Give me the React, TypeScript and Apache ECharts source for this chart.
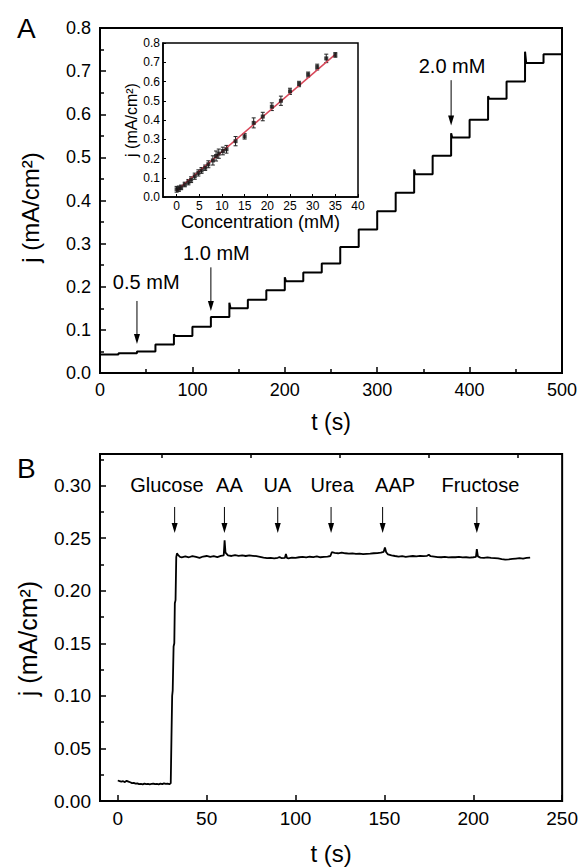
import React, { useEffect, useRef } from 'react';
import * as echarts from 'echarts';

const FONT = '"Liberation Sans", Arial, Helvetica, sans-serif';

// ---------- Panel A: amperometric steps ----------
const stepStarts = [0, 20, 40, 60, 80, 100, 120, 140, 160, 180, 200, 220, 240, 260, 280, 300, 320, 340, 360, 380, 400, 420, 440, 460, 480];
const stepLevels = [0.043, 0.046, 0.050, 0.066, 0.086, 0.107, 0.130, 0.150, 0.170, 0.192, 0.213, 0.233, 0.254, 0.292, 0.333, 0.375, 0.418, 0.461, 0.504, 0.546, 0.587, 0.636, 0.676, 0.719, 0.739];
const spikeTimes = [80, 140, 200, 340, 380, 420, 460];
const spikeValues = [0.090, 0.163, 0.222, 0.472, 0.556, 0.642, 0.745];
const stepEnd = 500;

const doseLabels = ['0.5 mM', '1.0 mM', '2.0 mM'];
const doseLabelT = [50, 126, 381];
const doseLabelJ = [0.212, 0.278, 0.711];
const doseArrowT = [40, 120, 380];
const doseArrowTop = [0.167, 0.245, 0.679];
const doseArrowTip = [0.067, 0.144, 0.574];

// ---------- Inset: calibration ----------
const concentration = [0, 0.5, 1, 1.8, 2.6, 3.2, 4, 4.8, 5.5, 6.3, 7, 8, 8.7, 9.3, 10.2, 11, 13, 15, 17, 19, 21, 23, 25, 27, 29, 31, 33, 35];
const calCurrent = [0.040, 0.043, 0.050, 0.065, 0.077, 0.090, 0.108, 0.125, 0.138, 0.152, 0.170, 0.190, 0.213, 0.225, 0.239, 0.248, 0.290, 0.315, 0.385, 0.418, 0.469, 0.500, 0.549, 0.587, 0.636, 0.675, 0.720, 0.738];
const calError = [0.015, 0.014, 0.012, 0.012, 0.014, 0.015, 0.016, 0.016, 0.015, 0.014, 0.018, 0.024, 0.026, 0.024, 0.020, 0.020, 0.024, 0.014, 0.026, 0.022, 0.020, 0.024, 0.016, 0.014, 0.013, 0.015, 0.022, 0.012];
const fitConc = [0, 35];
const fitCurrent = [0.033, 0.741];

// ---------- Panel B: selectivity ----------
const bTime = [0, 1, 2, 3, 4, 5, 6, 7, 8, 9, 10, 11, 12, 13, 14, 15, 16, 17, 18, 19, 20, 21, 22, 23, 24, 25, 26, 27, 28, 29, 29.8, 30.0, 30.2, 30.6, 30.9, 31.4, 31.8, 32.1, 32.5, 32.9, 33.3, 34, 35, 36, 38, 40, 42, 44, 46, 48, 50, 52, 54, 56, 58, 59.6, 60.1, 60.6, 62, 64, 66, 68, 70, 72, 74, 76, 78, 80, 82, 84, 86, 88, 90, 91, 92, 94, 94.6, 95.2, 96, 98, 100, 102, 104, 106, 108, 110, 112, 114, 116, 118, 119.6, 120.4, 122, 124, 126, 128, 130, 132, 134, 136, 138, 140, 142, 144, 146, 148, 149.6, 150.3, 151, 152, 154, 156, 158, 160, 162, 164, 166, 168, 170, 172, 174, 175, 176, 178, 180, 182, 184, 186, 188, 190, 192, 194, 196, 198, 200, 201.5, 202, 202.6, 204, 206, 208, 210, 212, 214, 216, 218, 220, 222, 224, 226, 228, 230, 232];
const bCurrent = [0.0195, 0.019, 0.0185, 0.0188, 0.018, 0.0192, 0.0185, 0.0178, 0.017, 0.0172, 0.0165, 0.0168, 0.016, 0.0163, 0.0158, 0.0165, 0.016, 0.0163, 0.0158, 0.0162, 0.0166, 0.016, 0.0163, 0.0158, 0.0165, 0.016, 0.0168, 0.0162, 0.0165, 0.016, 0.0168, 0.017, 0.060, 0.100, 0.105, 0.147, 0.150, 0.188, 0.191, 0.232, 0.2355, 0.2338, 0.2322, 0.2318, 0.2326, 0.2318, 0.2328, 0.2321, 0.2313, 0.2325, 0.2330, 0.2322, 0.2328, 0.2320, 0.2331, 0.2335, 0.2480, 0.2362, 0.2336, 0.2330, 0.2338, 0.2332, 0.2336, 0.2330, 0.2336, 0.2332, 0.2328, 0.2322, 0.2315, 0.2310, 0.2313, 0.2308, 0.2313, 0.2320, 0.2310, 0.2312, 0.2348, 0.2312, 0.2308, 0.2315, 0.2312, 0.2318, 0.2322, 0.2317, 0.2323, 0.2320, 0.2326, 0.2318, 0.2322, 0.2325, 0.2330, 0.2366, 0.2360, 0.2356, 0.2362, 0.2356, 0.2352, 0.2355, 0.2350, 0.2352, 0.2348, 0.2351, 0.2352, 0.2356, 0.2358, 0.2362, 0.2370, 0.2410, 0.2366, 0.2346, 0.2336, 0.2330, 0.2325, 0.2328, 0.2322, 0.2326, 0.2330, 0.2326, 0.2331, 0.2328, 0.2332, 0.2342, 0.2328, 0.2325, 0.2320, 0.2318, 0.2322, 0.2316, 0.2320, 0.2318, 0.2322, 0.2316, 0.2318, 0.2315, 0.2318, 0.2321, 0.2395, 0.2326, 0.2315, 0.2312, 0.2316, 0.2312, 0.2310, 0.2307, 0.2300, 0.2296, 0.2298, 0.2302, 0.2306, 0.2310, 0.2306, 0.2312, 0.2314];

const interferents = ['Glucose', 'AA', 'UA', 'Urea', 'AAP', 'Fructose'];
const interferentLabelT = [27.6, 62.8, 89.8, 120.6, 156, 204];
const interferentLabelJ = 0.3005;
const interferentArrowT = [32, 60, 90, 120, 149, 202];
const interferentArrowTop = 0.2796;
const interferentArrowTip = 0.2549;

const xTicksB = [0, 50, 100, 150, 200, 250];
const xMinorTicksB = [25, 75, 125, 175, 225];
const xTicksInset = [0, 5, 10, 15, 20, 25, 30, 35, 40];

function buildSteps(): number[][] {
  const pts: number[][] = [[stepStarts[0], stepLevels[0]]];
  for (let i = 1; i < stepStarts.length; i++) {
    const t = stepStarts[i];
    pts.push([t, stepLevels[i - 1]]);
    const k = spikeTimes.indexOf(t);
    if (k >= 0) {
      pts.push([t, spikeValues[k]]);
      pts.push([t + 1.2, stepLevels[i]]);
    } else {
      pts.push([t, stepLevels[i]]);
    }
  }
  pts.push([stepEnd, stepLevels[stepLevels.length - 1]]);
  return pts;
}

const arrowRender = (params: any, api: any) => {
  const top = api.coord([api.value(0), api.value(1)]);
  const tip = api.coord([api.value(0), api.value(2)]);
  return {
    type: 'group',
    children: [
      { type: 'line', shape: { x1: top[0], y1: top[1], x2: tip[0], y2: tip[1] - 6 }, style: { stroke: '#000', lineWidth: 1 } },
      { type: 'polygon', shape: { points: [[tip[0] - 3, tip[1] - 10], [tip[0] + 3, tip[1] - 10], [tip[0], tip[1]]] }, style: { fill: '#000' } },
    ],
  };
};

const textRender = (names: string[], size: number) => (params: any, api: any) => {
  const p = api.coord([api.value(0), api.value(1)]);
  return {
    type: 'text',
    x: p[0],
    y: p[1],
    style: { text: names[params.dataIndex], fontSize: size, fontFamily: FONT, fill: '#000', align: 'center', verticalAlign: 'middle' },
  };
};

const errRender = (params: any, api: any) => {
  const c = api.value(0), m = api.value(1), e = api.value(2);
  const lo = api.coord([c, m - e]);
  const hi = api.coord([c, m + e]);
  const st = { stroke: '#222', lineWidth: 1 };
  return {
    type: 'group',
    children: [
      { type: 'line', shape: { x1: lo[0], y1: lo[1], x2: hi[0], y2: hi[1] }, style: st },
      { type: 'line', shape: { x1: lo[0] - 2, y1: lo[1], x2: lo[0] + 2, y2: lo[1] }, style: st },
      { type: 'line', shape: { x1: hi[0] - 2, y1: hi[1], x2: hi[0] + 2, y2: hi[1] }, style: st },
    ],
  };
};

const black = '#000';
const lbl = (size: number, margin: number, fmt?: (v: number) => string) => ({
  color: black, fontSize: size, fontFamily: FONT, margin, formatter: fmt,
});
const line = (w: number) => ({ onZero: false, lineStyle: { color: black, width: w } });

function buildOption(): any {
  return {
    animation: false,
    backgroundColor: '#fff',
    textStyle: { fontFamily: FONT, color: black },
    graphic: [
      { type: 'text', left: 17, top: 14, style: { text: 'A', fontSize: 28, fontFamily: FONT, fill: black } },
      { type: 'text', left: 17, top: 454, style: { text: 'B', fontSize: 28, fontFamily: FONT, fill: black } },
    ],
    grid: [
      { left: 100, top: 28, width: 462, height: 345, show: true, borderColor: black, borderWidth: 2, backgroundColor: 'transparent' },
      { left: 163, top: 43, width: 195, height: 154, show: true, borderColor: black, borderWidth: 1.5, backgroundColor: 'transparent' },
      { left: 100, top: 454, width: 463, height: 347, show: true, borderColor: black, borderWidth: 2, backgroundColor: 'transparent' },
    ],
    xAxis: [
      {
        gridIndex: 0, type: 'value', min: 0, max: 500, interval: 100,
        axisLine: line(2),
        axisTick: { inside: true, length: 6, lineStyle: { color: black, width: 1.5 } },
        minorTick: { show: true, splitNumber: 2, length: 4, lineStyle: { color: black, width: 1.5 } },
        axisLabel: lbl(18, 8),
        splitLine: { show: false },
        name: 't (s)', nameLocation: 'middle', nameGap: 37,
        nameTextStyle: { fontSize: 23, fontFamily: FONT, color: black },
      },
      {
        gridIndex: 1, type: 'value', min: -3, max: 40,
        axisLine: line(1.5),
        axisTick: { inside: true, length: 3, customValues: xTicksInset, lineStyle: { color: black } },
        axisLabel: { ...lbl(12, 3), customValues: xTicksInset },
        splitLine: { show: false },
        name: 'Concentration (mM)', nameLocation: 'middle', nameGap: 13,
        nameTextStyle: { fontSize: 18, fontFamily: FONT, color: black },
      },
      {
        gridIndex: 2, type: 'value', min: -10, max: 250,
        axisLine: line(2),
        axisTick: { inside: true, length: 6, customValues: xTicksB, lineStyle: { color: black, width: 1.5 } },
        axisLabel: { ...lbl(19, 8), customValues: xTicksB },
        splitLine: { show: false },
        name: 't (s)', nameLocation: 'middle', nameGap: 40,
        nameTextStyle: { fontSize: 24, fontFamily: FONT, color: black },
      },
      {
        gridIndex: 2, type: 'value', min: -10, max: 250,
        axisLine: { show: false, onZero: false },
        axisTick: { inside: true, length: 4, customValues: xMinorTicksB, lineStyle: { color: black, width: 1.5 } },
        axisLabel: { show: false, customValues: xMinorTicksB },
        splitLine: { show: false },
      },
    ],
    yAxis: [
      {
        gridIndex: 0, type: 'value', min: 0, max: 0.8, interval: 0.1,
        axisLine: line(2),
        axisTick: { inside: true, length: 6, lineStyle: { color: black, width: 1.5 } },
        minorTick: { show: true, splitNumber: 2, length: 4, lineStyle: { color: black, width: 1.5 } },
        axisLabel: lbl(18, 9, (v: number) => v.toFixed(1)),
        splitLine: { show: false },
        name: 'j (mA/cm²)', nameLocation: 'middle', nameRotate: 90, nameGap: 58,
        nameTextStyle: { fontSize: 24, fontFamily: FONT, color: black, padding: [0, 14, 0, 0] },
      },
      {
        gridIndex: 1, type: 'value', min: 0, max: 0.8, interval: 0.1,
        axisLine: line(1.5),
        axisTick: { inside: true, length: 3, lineStyle: { color: black } },
        axisLabel: lbl(12, 3, (v: number) => v.toFixed(1)),
        splitLine: { show: false },
        name: 'j (mA/cm²)', nameLocation: 'middle', nameRotate: 90, nameGap: 24,
        nameTextStyle: { fontSize: 16, fontFamily: FONT, color: black },
      },
      {
        gridIndex: 2, type: 'value', min: 0, max: 0.33, interval: 0.05,
        axisLine: line(2),
        axisTick: { inside: true, length: 6, lineStyle: { color: black, width: 1.5 } },
        minorTick: { show: true, splitNumber: 2, length: 4, lineStyle: { color: black, width: 1.5 } },
        axisLabel: { ...lbl(19, 9, (v: number) => v.toFixed(2)), showMaxLabel: false },
        splitLine: { show: false },
        name: 'j (mA/cm²)', nameLocation: 'middle', nameRotate: 90, nameGap: 60,
        nameTextStyle: { fontSize: 25, fontFamily: FONT, color: black, padding: [0, 22, 0, 0] },
      },
    ],
    series: [
      {
        type: 'line', xAxisIndex: 0, yAxisIndex: 0, data: buildSteps(), showSymbol: false,
        lineStyle: { color: black, width: 2 }, z: 3,
      },
      {
        type: 'custom', xAxisIndex: 0, yAxisIndex: 0, renderItem: arrowRender,
        data: doseArrowT.map((t, i) => [t, doseArrowTop[i], doseArrowTip[i]]),
        encode: { x: 0, y: [1, 2] },
      },
      {
        type: 'custom', xAxisIndex: 0, yAxisIndex: 0, renderItem: textRender(doseLabels, 20),
        data: doseLabelT.map((t, i) => [t, doseLabelJ[i]]),
        encode: { x: 0, y: 1 },
      },
      {
        type: 'custom', xAxisIndex: 1, yAxisIndex: 1, renderItem: errRender,
        data: concentration.map((c, i) => [c, calCurrent[i], calError[i]]),
        encode: { x: 0, y: 1 },
      },
      {
        type: 'line', xAxisIndex: 1, yAxisIndex: 1, data: fitConc.map((c, i) => [c, fitCurrent[i]]),
        showSymbol: false, lineStyle: { color: '#d8485a', width: 1.5 },
      },
      {
        type: 'scatter', xAxisIndex: 1, yAxisIndex: 1, data: concentration.map((c, i) => [c, calCurrent[i]]),
        symbol: 'rect', symbolSize: 4, itemStyle: { color: '#111' }, z: 4,
      },
      {
        type: 'line', xAxisIndex: 2, yAxisIndex: 2, data: bTime.map((t, i) => [t, bCurrent[i]]),
        showSymbol: false, lineStyle: { color: black, width: 1.8 },
      },
      {
        type: 'custom', xAxisIndex: 2, yAxisIndex: 2, renderItem: arrowRender,
        data: interferentArrowT.map((t) => [t, interferentArrowTop, interferentArrowTip]),
        encode: { x: 0, y: [1, 2] },
      },
      {
        type: 'custom', xAxisIndex: 2, yAxisIndex: 2, renderItem: textRender(interferents, 20),
        data: interferentLabelT.map((t) => [t, interferentLabelJ]),
        encode: { x: 0, y: 1 },
      },
    ],
  };
}

export default function App() {
  const ref = useRef<HTMLDivElement>(null);
  useEffect(() => {
    if (!ref.current) return;
    const chart = echarts.init(ref.current, null, { renderer: 'svg' });
    chart.setOption(buildOption());
    return () => chart.dispose();
  }, []);
  return <div ref={ref} style={{ position: 'fixed', left: 0, top: 0, width: 581, height: 868, background: '#fff' }} />;
}
